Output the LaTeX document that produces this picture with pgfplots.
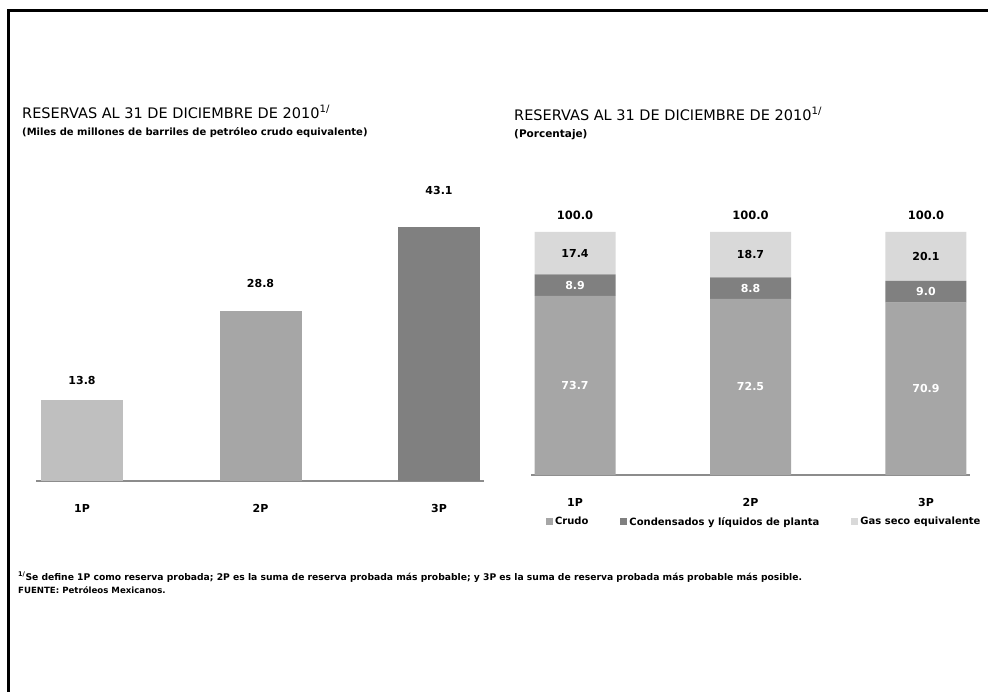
\documentclass[border=0pt]{standalone}
\usepackage{pgfplots}
\pgfplotsset{compat=1.18}
\usepackage{fontspec}
\setmainfont{DejaVu Sans}

\definecolor{g1}{HTML}{BFBFBF}
\definecolor{g2}{HTML}{A6A6A6}
\definecolor{g3}{HTML}{808080}
\definecolor{g4}{HTML}{D9D9D9}
\definecolor{axgray}{HTML}{8C8C8C}

\begin{document}
\begin{tikzpicture}
\path[use as bounding box] (0pt,0pt) rectangle (988pt,-692pt);
\draw[line width=2.2pt] (8.5pt,-692pt) -- (8.5pt,-10.5pt) -- (988pt,-10.5pt);

% titles
\node[anchor=west, inner sep=0pt, font=\fontsize{14.5}{16}\selectfont] at (22pt,-112pt)
  {RESERVAS AL 31 DE DICIEMBRE DE 2010\textsuperscript{1/}};
\node[anchor=west, inner sep=0pt, font=\bfseries\fontsize{10}{12}\selectfont] at (22pt,-133pt)
  {(Miles de millones de barriles de petróleo crudo equivalente)};
\node[anchor=west, inner sep=0pt, font=\fontsize{14.5}{16}\selectfont] at (514pt,-114pt)
  {RESERVAS AL 31 DE DICIEMBRE DE 2010\textsuperscript{1/}};
\node[anchor=west, inner sep=0pt, font=\bfseries\fontsize{10.5}{12}\selectfont] at (514pt,-135pt)
  {(Porcentaje)};

% left chart
\begin{axis}[
  at={(36pt,-481pt)}, anchor=south west,
  scale only axis, width=448pt, height=295pt,
  ybar, bar width=82pt, bar shift=0pt,
  xmin=-0.258, xmax=2.252, ymin=0, ymax=50,
  axis y line=none, axis x line*=bottom,
  x axis line style={-, draw=axgray, line width=2.5pt},
  xtick={0,1,2}, xticklabels={1P,2P,3P},
  major tick length=0pt,
  xticklabel style={font=\bfseries\fontsize{11}{13}\selectfont, yshift=-20pt},
  clip=false,
]
\addplot[fill=g1, draw=none] coordinates {(0,13.8)};
\addplot[fill=g2, draw=none] coordinates {(1,28.8)};
\addplot[fill=g3, draw=none] coordinates {(2,43.1)};
\addplot[draw=none, fill=none, nodes near coords, point meta=explicit symbolic,
  every node near coord/.style={anchor=center, font=\bfseries\fontsize{11}{13}\selectfont}]
  coordinates {(0,16.95)[13.8] (1,33.56)[28.8] (2,49.2)[43.1]};
\end{axis}

% right chart: stacked bars
\begin{axis}[
  at={(531pt,-475pt)}, anchor=south west,
  scale only axis, width=439pt, height=243pt,
  ybar stacked, bar width=81pt,
  legend image code/.code={\fill[#1] (0pt,-3.5pt) rectangle (7pt,3.5pt);},
  xmin=-0.251, xmax=2.251, ymin=0, ymax=100,
  axis y line=none, axis x line*=bottom,
  x axis line style={-, draw=axgray, line width=2pt},
  xtick={0,1,2}, xticklabels={1P,2P,3P},
  major tick length=0pt,
  xticklabel style={font=\bfseries\fontsize{11}{13}\selectfont, yshift=-20pt},
  legend style={at={(0.027,-0.193)}, anchor=west, draw=none, fill=none,
    font=\bfseries\fontsize{10}{12}\selectfont, legend columns=3,
    /tikz/every even column/.append style={column sep=30pt},
    legend cell align=left},
  clip=false,
]
\addplot[fill=g2, draw=none] coordinates {(0,73.7) (1,72.5) (2,70.9)};
\addplot[fill=g3, draw=none] coordinates {(0,8.9) (1,8.8) (2,9.0)};
\addplot[fill=g4, draw=none] coordinates {(0,17.4) (1,18.7) (2,20.1)};
\legend{Crudo, Condensados y líquidos de planta, Gas seco equivalente}
\end{axis}

% right chart: value labels
\begin{axis}[
  at={(531pt,-475pt)}, anchor=south west,
  scale only axis, width=439pt, height=243pt,
  xmin=-0.251, xmax=2.251, ymin=0, ymax=100,
  axis lines=none, clip=false,
  nodes near coords, point meta=explicit symbolic,
  every node near coord/.style={anchor=center, font=\bfseries\fontsize{11}{13}\selectfont},
]
\addplot[draw=none, every node near coord/.append style={white}]
  coordinates {(0,36.85)[73.7] (1,36.25)[72.5] (2,35.45)[70.9]};
\addplot[draw=none, every node near coord/.append style={white}]
  coordinates {(0,78.15)[8.9] (1,76.9)[8.8] (2,75.4)[9.0]};
\addplot[draw=none, every node near coord/.append style={black}]
  coordinates {(0,91.3)[17.4] (1,90.65)[18.7] (2,89.95)[20.1]};
\addplot[draw=none, every node near coord/.append style={black, font=\bfseries\fontsize{11.5}{13}\selectfont}]
  coordinates {(0,107)[100.0] (1,107)[100.0] (2,107)[100.0]};
\end{axis}

% notes
\node[anchor=west, inner sep=0pt, font=\bfseries\fontsize{9.2}{11}\selectfont] at (18pt,-577pt)
  {\textsuperscript{1/}Se define 1P como reserva probada; 2P es la suma de reserva probada más probable; y 3P es la suma de reserva probada más probable más posible.};
\node[anchor=west, inner sep=0pt, font=\bfseries\fontsize{8.6}{10}\selectfont] at (18pt,-590pt)
  {FUENTE: Petróleos Mexicanos.};
\end{tikzpicture}
\end{document}
